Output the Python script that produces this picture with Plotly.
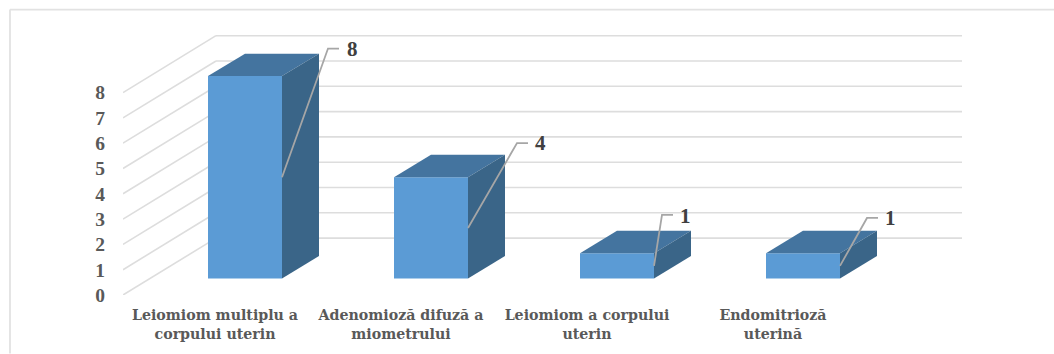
import plotly.graph_objects as go

# ---- data ----
categories = ["Leiomiom multiplu a<br>corpului uterin",
              "Adenomioză difuză a<br>miometrului",
              "Leiomiom a corpului<br>uterin",
              "Endomitrioză<br>uterină"]
values = [8, 4, 1, 1]
y_ticks = [0, 1, 2, 3, 4, 5, 6, 7, 8]

# ---- geometry (pixels of the frame) ----
W, H = 1054, 354
L, R, T, B = 123, 962, 28, 295.5     # plot area
X0, X_STEP = 215, 186                # pixel of category 0, spacing
Y_STEP = 25.35                       # pixels per unit
x_rng = [(L - X0) / X_STEP, (R - X0) / X_STEP]
y_rng = [0, (B - T) / Y_STEP]

def ux(px):   # horizontal pixel length -> x units
    return px / X_STEP
def uy(px):   # vertical pixel length -> y units
    return px / Y_STEP

BAR_OFF = ux(208 - X0)
BAR_W = ux(74)
BASE = uy(B - 279)
DX, DY = ux(37), uy(22.5)            # bar depth
WX, WY = ux(93), uy(57)              # wall depth
LEADER = [(46, 129), (49, 85), (8, 51), (27, 48)]   # elbow offset from leader start
STUB = 11
TEXT_GAP = [13, 12, 12, 12]
TEXT_DY = [0, 0, -1, 0]

FRONT, TOP, SIDE = "#5B9BD5", "#44749F", "#3A6588"
GRID = "#DDDDDD"
FONT = "Liberation Serif"
WIDE_FONT = "DejaVu Serif"

fig = go.Figure()

# front faces
fig.add_trace(go.Bar(x=list(range(len(values))), y=values, base=BASE,
                     offset=BAR_OFF, width=BAR_W,
                     marker=dict(color=FRONT, line=dict(width=0)), hoverinfo="skip"))

# top and side faces, leaders, labels
for i, v in enumerate(values):
    x1 = i + BAR_OFF
    x2 = x1 + BAR_W
    yb = BASE
    yt = BASE + v
    fig.add_trace(go.Scatter(x=[x1, x2, x2 + DX, x1 + DX, x1], y=[yt, yt, yt + DY, yt + DY, yt],
                             mode="lines", fill="toself", fillcolor=TOP, line=dict(width=0),
                             hoverinfo="skip"))
    fig.add_trace(go.Scatter(x=[x2, x2 + DX, x2 + DX, x2, x2], y=[yb, yb + DY, yt + DY, yt, yb],
                             mode="lines", fill="toself", fillcolor=SIDE, line=dict(width=0),
                             hoverinfo="skip"))
    sy = BASE + v / 2
    ex = x2 + ux(LEADER[i][0])
    ey = sy + uy(LEADER[i][1])
    fig.add_trace(go.Scatter(x=[x2, ex, ex + ux(STUB)], y=[sy, ey, ey], mode="lines",
                             line=dict(color="#A6A6A6", width=1.8), hoverinfo="skip"))
    fig.add_annotation(x=ex + ux(STUB + TEXT_GAP[i]), y=ey + uy(TEXT_DY[i]), text=f"<b>{v}</b>",
                       showarrow=False, xanchor="center", yanchor="middle",
                       font=dict(family=FONT, size=21, color="#404040"))

# walls
shapes = []
for t in y_ticks:
    line = dict(type="line", layer="below", line=dict(color=GRID, width=1.6))
    shapes.append(dict(line, x0=x_rng[0], y0=t, x1=x_rng[0] + WX, y1=t + WY))
    shapes.append(dict(line, x0=x_rng[0] + WX, y0=t + WY, x1=x_rng[1], y1=t + WY))
# outer frame (pixels -> paper)
def pxp(px): return (px - L) / (R - L)
def pyp(py): return (B - py) / (B - T)
frame = dict(type="line", xref="paper", yref="paper", layer="below",
             line=dict(color="#E2E2E2", width=1.8))
shapes.append(dict(frame, x0=pxp(10), y0=pyp(9.5), x1=pxp(W), y1=pyp(9.5)))
shapes.append(dict(frame, x0=pxp(10), y0=pyp(9.5), x1=pxp(10), y1=pyp(H)))

fig.update_layout(
    width=W, height=H, autosize=False, showlegend=False, barmode="overlay",
    margin=dict(l=L, r=W - R, t=T, b=H - B, pad=0),
    paper_bgcolor="white", plot_bgcolor="rgba(0,0,0,0)", shapes=shapes,
    xaxis=dict(range=x_rng, tickmode="array", tickvals=list(range(len(categories))),
               ticktext=[f"<b>{c}</b>".replace("<br>", "</b><br><b>") for c in categories],
               showgrid=False, zeroline=False, showline=False, ticks="outside",
               tickcolor="rgba(0,0,0,0)", ticklen=7, tickangle=0,
               tickfont=dict(family=WIDE_FONT, size=14.2, color="#595959")),
    yaxis=dict(range=y_rng, tickmode="array", tickvals=y_ticks,
               ticktext=[f"<b>{t}</b>" for t in y_ticks],
               showgrid=False, zeroline=False, showline=False, ticks="outside",
               tickcolor="rgba(0,0,0,0)", ticklen=13,
               tickfont=dict(family=FONT, size=19.5, color="#595959")),
)

fig.write_html("out.html", config=dict(displayModeBar=False),
               post_script="document.body.style.margin='0';document.body.style.overflow='hidden';")
